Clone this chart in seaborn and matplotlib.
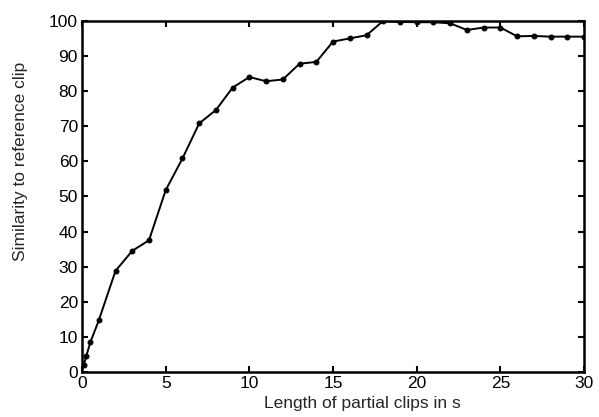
import numpy as np
import pandas as pd
import matplotlib
matplotlib.use("Agg")
import matplotlib.pyplot as plt
import seaborn as sns

# clip length in seconds and similarity (%)
length_s = [0.1, 0.25, 0.5, 1, 2, 3, 4, 5, 6, 7, 8, 9, 10, 11, 12, 13, 14, 15,
            16, 17, 18, 19, 20, 21, 22, 23, 24, 25, 26, 27, 28, 29, 30]
similarity = [2, 4.5, 8.5, 14.7, 28.8, 34.5, 37.5, 51.8, 60.8, 70.8, 74.6, 81, 84,
              82.8, 83.3, 87.8, 88.3, 94.1, 95, 95.9, 100, 99.7, 99.6, 99.6, 99.3,
              97.4, 98.1, 98.1, 95.6, 95.7, 95.5, 95.5, 95.5]

df = pd.DataFrame(dict(length=length_s, similarity=similarity))

sns.set_theme(style="ticks")
plt.rcParams["font.family"] = ["Liberation Sans", "DejaVu Sans"]

fig = plt.figure(figsize=(5.99, 4.17), dpi=100)
ax = fig.add_axes([0.137, 0.108, 0.838, 0.842])

sns.lineplot(data=df, x="length", y="similarity", ax=ax, color="black",
             linewidth=1.4, marker="o", markersize=3.5, markeredgecolor="black")

ax.set_xlim(0, 30)
ax.set_ylim(0, 100)
ax.set_xticks(np.arange(0, 31, 5))
ax.set_yticks(np.arange(0, 101, 10))
ax.tick_params(direction="in", length=4, width=1.5, labelsize=12.5, pad=3,
               top=True, right=True, colors="black")
for side in ax.spines.values():
    side.set_linewidth(1.8)
    side.set_color("black")

# labels in the scan sit a little off-centre
ax.set_xlabel("Length of partial clips in s", fontsize=12.5)
ax.set_ylabel("Similarity to reference clip", fontsize=12.5)
ax.xaxis.set_label_coords(0.558, -0.068)
ax.yaxis.set_label_coords(-0.108, 0.60)

fig.savefig("out.png", dpi=100)
